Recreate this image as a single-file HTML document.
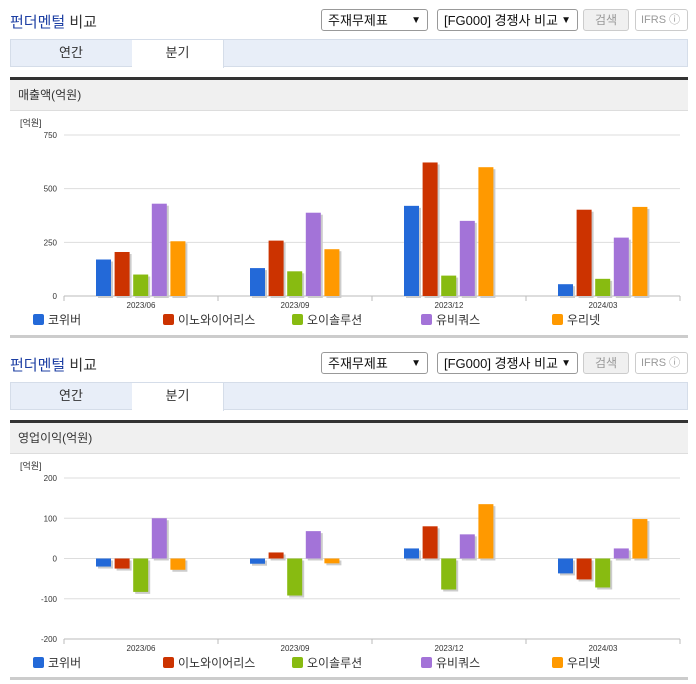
<!DOCTYPE html>
<html><head><meta charset="utf-8">
<style>
body{margin:0;width:696px;height:684px;background:#fff;font-family:"Liberation Sans","Noto Sans CJK KR",sans-serif;position:relative;overflow:hidden}
.a{position:absolute}
.title{font-size:15px;color:#1d3fa3;left:10px}
.title b{font-weight:normal;color:#333}
.sel{border:1px solid #999;border-radius:3px;background:#fff;font-size:13px;color:#111;height:22px;line-height:22px;box-sizing:border-box;padding-left:6px}
.sel span{position:absolute;right:6px;top:0;font-size:10px}
.btn{border:1px solid #ccc;border-radius:3px;background:#f0f0f0;color:#999;font-size:12px;text-align:center;height:22px;line-height:20px;box-sizing:border-box}
.ifrs{border:1px solid #ccc;border-radius:3px;background:#fff;color:#999;font-size:11px;height:22px;line-height:20px;box-sizing:border-box;padding-left:5px}
.tabs{left:10px;width:678px;height:28px;background:#e8eef8;border:1px solid #d5dde9;box-sizing:border-box}
.tab{top:0;height:27px;line-height:26px;text-align:center;font-size:13px;color:#333}
.dark{left:10px;width:678px;height:3px;background:#333}
.hdr{left:10px;width:678px;height:31px;background:#f0f0f0;border-bottom:1px solid #ddd;font-size:12px;color:#333;line-height:31px;padding-left:8px;box-sizing:border-box}
.bottom{left:10px;width:678px;height:3px;background:#ccc}
svg text{font-family:"Liberation Sans","Noto Sans CJK KR",sans-serif}
</style></head><body>
<div id="p1">
<div class="a title" style="top:11px">펀더멘털 <b>비교</b></div>
<div class="a sel" style="left:321px;top:9px;width:107px">주재무제표<span>▼</span></div>
<div class="a sel" style="left:437px;top:9px;width:141px">[FG000] 경쟁사 비교<span>▼</span></div>
<div class="a btn" style="left:583px;top:9px;width:46px">검색</div>
<div class="a ifrs" style="left:635px;top:9px;width:53px">IFRS ⓘ</div>
<div class="a tabs" style="top:39px">
<div class="a tab" style="left:0;width:120px">연간</div>
<div class="a tab" style="left:121px;width:91px;background:#fff;border-right:1px solid #d5dde9;height:28px">분기</div>
</div>
<div class="a dark" style="top:77px"></div>
<div class="a hdr" style="top:80px">매출액(억원)</div>
<svg id="c1" class="a" style="left:0;top:112px" width="696" height="225"></svg>
<div class="a bottom" style="top:335px"></div>
</div>
<div id="p2">
<div class="a title" style="top:354px">펀더멘털 <b>비교</b></div>
<div class="a sel" style="left:321px;top:352px;width:107px">주재무제표<span>▼</span></div>
<div class="a sel" style="left:437px;top:352px;width:141px">[FG000] 경쟁사 비교<span>▼</span></div>
<div class="a btn" style="left:583px;top:352px;width:46px">검색</div>
<div class="a ifrs" style="left:635px;top:352px;width:53px">IFRS ⓘ</div>
<div class="a tabs" style="top:382px">
<div class="a tab" style="left:0;width:120px">연간</div>
<div class="a tab" style="left:121px;width:91px;background:#fff;border-right:1px solid #d5dde9;height:28px">분기</div>
</div>
<div class="a dark" style="top:420px"></div>
<div class="a hdr" style="top:423px">영업이익(억원)</div>
<svg id="c2" class="a" style="left:0;top:455px" width="696" height="225"></svg>
<div class="a bottom" style="top:677px"></div>
</div>
<script>
const categories=["2023/06","2023/09","2023/12","2024/03"];
const seriesNames=["코위버","이노와이어리스","오이솔루션","유비쿼스","우리넷"];
const colors=["#2369d8","#cc3300","#88bb11","#a373d8","#ff9900"];
const sales=[[170,130,420,55],[205,258,622,402],[100,115,95,80],[430,388,350,272],[255,218,600,415]];
const salesTicks=[0,250,500,750];
const profit=[[-20,-13,25,-37],[-25,15,80,-52],[-83,-92,-77,-72],[100,68,60,25],[-28,-12,135,98]];
const profitTicks=[-200,-100,0,100,200];
const NS="http://www.w3.org/2000/svg";
function mk(svg,tag,at,txt){const e=document.createElementNS(NS,tag);for(const k in at)e.setAttribute(k,at[k]);if(txt!=null)e.textContent=txt;svg.appendChild(e);return e;}
function draw(id,data,ticks,yTop,yBot,name){
  const svg=document.getElementById(id);
  const x0=64,x1=680,lo=ticks[0],hi=ticks[ticks.length-1];
  const y=v=>yBot-(v-lo)/(hi-lo)*(yBot-yTop);
  const gw=(x1-x0)/categories.length;
  let t=mk(svg,'text',{x:20,y:yTop-9,'font-size':9,fill:'#333'},'[억원]');
  
  
  ticks.forEach(v=>{
    const l=mk(svg,'line',{x1:x0,x2:x1,y1:y(v),y2:y(v),stroke:'#ddd'});
    
    
    const tt=mk(svg,'text',{x:57,y:y(v)+3,'font-size':8,fill:'#333','text-anchor':'end'},v);
    
    
  });
  mk(svg,'line',{x1:x0,x2:x1,y1:yBot,y2:yBot,stroke:'#bbb'});
  categories.forEach((c,i)=>{
    const cx=x0+gw*(i+0.5);
    mk(svg,'line',{x1:x0+gw*i,x2:x0+gw*i,y1:yBot,y2:yBot+5,stroke:'#bbb'});
    const lt=mk(svg,'text',{x:cx,y:yBot+12,'font-size':8,fill:'#333','text-anchor':'middle'},c);
    
    
    data.forEach((s,j)=>{
      const bx=cx-45+j*18.6,v=s[i];
      const top=Math.min(y(v),y(0)),h=Math.abs(y(v)-y(0));
      mk(svg,'rect',{x:bx+2,y:top+2,width:15,height:h,fill:'#ccc'});
      const r=mk(svg,'rect',{x:bx,y:top,width:15,height:h,fill:colors[j]});
      
      
    });
  });
  mk(svg,'line',{x1:x1,x2:x1,y1:yBot,y2:yBot+5,stroke:'#bbb'});
  const lx=[33,163,292,421,552];
  seriesNames.forEach((n,j)=>{
    const sq=mk(svg,'rect',{x:lx[j],y:yBot+18,width:11,height:11,rx:2,fill:colors[j]});
    
    
    const lt=mk(svg,'text',{x:lx[j]+15,y:yBot+28,'font-size':12,fill:'#333'},n);
    
    
  });
}
draw('c1',sales,salesTicks,23,184,'sales');
draw('c2',profit,profitTicks,23,184,'profit');
</script>
</body></html>
